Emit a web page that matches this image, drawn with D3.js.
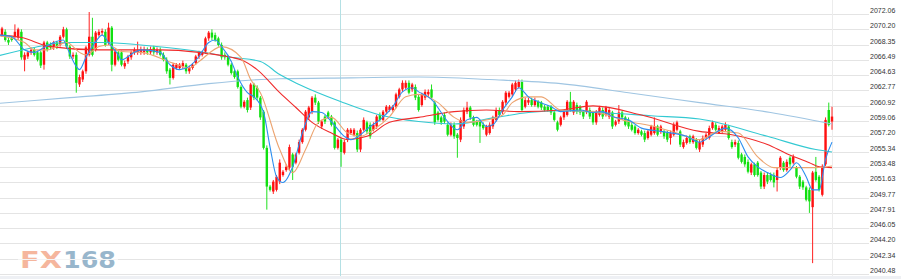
<!DOCTYPE html>
<html>
<head>
<meta charset="utf-8">
<script src="https://cdn.jsdelivr.net/npm/d3@7"></script>
<style>
  html, body { margin: 0; padding: 0; background: #fff; overflow: hidden; }
</style>
</head>
<body>
<svg id="chart" width="901" height="279"></svg>
<script>
// price axis labels (right side)
const yTicks = [2072.06, 2070.20, 2068.35, 2066.49, 2064.63, 2062.77, 2060.92, 2059.06, 2057.20,
  2055.34, 2053.48, 2051.63, 2049.77, 2047.91, 2046.05, 2044.20, 2042.34, 2040.48];

// candles: [open, high, low, close]
const ohlc = [
  [2069.5,2070.5,2069.3,2070.3],[2069.9,2070.2,2068.7,2068.9],[2068.9,2069.2,2068.3,2068.6],[2069.2,2069.4,2068.7,2068.9],
  [2069.3,2070.8,2069.1,2069.9],[2069.2,2070.4,2068.9,2070.2],[2069.9,2070.2,2066.5,2066.8],[2066.5,2067.4,2065.1,2067.1],
  [2066.9,2067.6,2066.6,2067.4],[2067.4,2068.0,2067.1,2067.7],[2067.7,2068.0,2066.9,2067.1],[2067.4,2067.6,2066.3,2066.5],
  [2067.4,2067.6,2065.5,2065.8],[2065.9,2068.8,2065.3,2068.6],[2068.6,2068.8,2067.5,2067.7],[2068.3,2068.6,2067.7,2068.0],
  [2068.0,2068.8,2067.7,2068.6],[2068.6,2068.8,2067.8,2068.1],[2068.3,2069.5,2068.1,2069.3],[2069.3,2070.5,2069.1,2070.2],
  [2070.2,2070.4,2067.8,2068.1],[2068.1,2068.3,2066.6,2066.9],[2066.9,2067.4,2066.6,2067.1],[2067.1,2067.4,2062.5,2063.7],
  [2063.5,2064.7,2063.2,2064.4],[2064.1,2065.3,2063.8,2065.1],[2065.1,2068.2,2064.8,2068.0],[2067.1,2072.3,2066.9,2069.3],
  [2069.3,2071.6,2066.9,2067.1],[2067.7,2070.0,2067.5,2069.8],[2069.5,2070.2,2069.3,2069.9],[2069.8,2070.3,2069.5,2070.0],
  [2069.9,2070.2,2068.1,2068.3],[2068.6,2071.0,2068.3,2070.4],[2070.4,2070.6,2065.1,2065.9],[2065.9,2067.7,2065.7,2067.5],
  [2067.4,2067.6,2066.3,2066.5],[2067.4,2067.6,2065.7,2065.9],[2065.7,2066.4,2065.4,2066.1],[2066.3,2067.1,2066.0,2066.9],
  [2066.8,2067.6,2066.5,2067.4],[2067.4,2068.0,2067.1,2067.7],[2067.4,2068.7,2067.1,2067.7],[2067.4,2068.1,2067.1,2067.8],
  [2067.4,2068.1,2067.1,2067.8],[2067.7,2068.0,2067.1,2067.4],[2067.4,2068.1,2067.1,2067.8],[2068.0,2068.2,2067.1,2067.4],
  [2067.4,2068.0,2067.1,2067.7],[2067.7,2068.0,2066.9,2067.1],[2067.1,2067.4,2066.3,2066.5],[2066.5,2066.8,2064.8,2065.1],
  [2065.3,2065.5,2063.5,2064.3],[2064.3,2066.1,2064.1,2065.9],[2065.5,2066.1,2065.3,2065.9],[2065.5,2066.1,2065.3,2065.9],
  [2065.7,2066.4,2065.4,2066.1],[2065.9,2066.1,2064.8,2065.1],[2065.1,2065.8,2064.8,2065.5],[2065.5,2066.1,2065.3,2065.9],
  [2066.1,2067.1,2065.9,2066.9],[2066.9,2067.6,2066.6,2067.4],[2067.1,2067.6,2066.9,2067.4],[2067.5,2069.3,2067.2,2069.1],
  [2069.1,2070.0,2068.8,2069.8],[2069.8,2070.2,2068.9,2069.2],[2069.5,2069.8,2068.7,2068.9],[2069.1,2069.3,2068.1,2068.3],
  [2068.3,2068.6,2066.5,2066.8],[2067.1,2067.4,2066.5,2066.8],[2066.9,2067.1,2065.7,2065.9],[2065.9,2066.1,2064.7,2064.9],
  [2065.1,2065.3,2064.2,2064.4],[2065.1,2065.3,2063.0,2063.2],[2063.2,2063.4,2060.6,2060.8],[2060.8,2061.6,2060.6,2061.4],
  [2061.6,2061.9,2060.1,2060.4],[2060.7,2063.7,2060.4,2063.5],[2063.5,2063.7,2061.6,2061.9],[2063.1,2063.4,2061.6,2061.9],
  [2061.9,2062.1,2059.2,2059.5],[2060.2,2060.4,2055.6,2055.8],[2055.8,2056.1,2048.3,2051.1],[2051.1,2051.3,2050.5,2050.7],
  [2050.5,2051.9,2050.2,2051.7],[2050.7,2052.5,2050.5,2052.3],[2051.7,2054.4,2051.4,2054.0],[2052.5,2053.1,2052.3,2052.9],
  [2053.1,2053.8,2052.9,2053.5],[2053.4,2056.2,2053.1,2055.9],[2055.0,2055.2,2051.9,2053.5],[2054.0,2055.2,2053.8,2055.0],
  [2055.2,2056.8,2055.0,2056.5],[2056.5,2058.2,2056.3,2058.0],[2058.0,2060.4,2057.8,2060.2],[2059.5,2060.9,2059.2,2060.7],
  [2060.2,2062.1,2059.9,2061.9],[2061.9,2062.3,2061.0,2061.3],[2061.3,2061.5,2058.7,2059.0],[2058.4,2059.2,2058.1,2059.0],
  [2059.6,2059.8,2058.7,2059.0],[2060.1,2060.3,2059.3,2059.6],[2059.6,2059.8,2058.4,2058.6],[2058.9,2059.1,2055.6,2055.8],
  [2055.8,2057.0,2055.6,2056.8],[2056.8,2057.0,2053.5,2055.3],[2055.2,2056.8,2055.0,2056.5],[2056.8,2058.2,2056.5,2058.0],
  [2057.6,2058.2,2057.4,2058.0],[2057.4,2058.2,2057.2,2058.0],[2057.6,2057.9,2055.3,2055.6],[2055.6,2058.2,2055.3,2058.0],
  [2058.0,2059.5,2057.8,2059.2],[2058.9,2059.1,2057.5,2057.8],[2058.6,2058.9,2056.9,2057.2],[2058.0,2058.9,2057.8,2058.6],
  [2058.4,2059.8,2058.1,2059.6],[2059.8,2060.1,2059.0,2059.2],[2059.2,2060.4,2059.0,2060.2],[2060.2,2061.0,2059.9,2060.8],
  [2060.4,2061.0,2060.2,2060.8],[2060.4,2061.0,2060.2,2060.8],[2060.8,2062.5,2060.6,2062.3],[2062.0,2063.1,2061.8,2062.9],
  [2062.9,2064.0,2062.6,2063.7],[2063.1,2064.0,2062.9,2063.7],[2063.7,2064.0,2062.3,2062.5],[2062.9,2063.7,2062.6,2063.5],
  [2063.2,2063.5,2061.6,2061.9],[2062.0,2062.3,2060.2,2060.4],[2061.0,2062.5,2060.8,2062.3],[2061.9,2062.9,2061.6,2062.6],
  [2062.3,2062.9,2062.0,2062.6],[2062.9,2063.5,2061.6,2061.9],[2061.3,2061.5,2058.6,2058.9],[2060.1,2060.3,2059.0,2059.2],
  [2059.5,2059.7,2058.6,2058.9],[2059.8,2060.1,2058.7,2059.0],[2058.6,2058.9,2057.2,2057.4],[2057.4,2058.9,2057.2,2058.6],
  [2058.6,2058.9,2056.9,2057.2],[2057.4,2057.6,2054.6,2057.0],[2056.8,2059.5,2056.5,2059.2],[2058.4,2060.7,2058.1,2060.4],
  [2060.2,2061.4,2059.9,2060.7],[2060.7,2060.9,2059.2,2059.5],[2059.5,2059.7,2058.4,2058.6],[2059.0,2059.2,2058.4,2058.6],
  [2059.0,2059.2,2056.4,2058.4],[2058.6,2058.9,2058.0,2058.2],[2057.4,2058.6,2057.2,2058.4],[2057.6,2058.9,2057.4,2058.6],
  [2058.4,2059.7,2058.1,2059.5],[2059.2,2060.7,2059.0,2060.4],[2060.4,2060.7,2059.6,2059.8],[2060.2,2061.6,2059.9,2061.4],
  [2061.3,2062.7,2061.0,2062.5],[2062.0,2062.7,2061.8,2062.5],[2062.3,2063.7,2062.0,2063.5],[2062.9,2064.0,2062.6,2063.7],
  [2063.2,2064.1,2063.0,2063.8],[2063.8,2064.1,2060.2,2060.4],[2060.8,2061.9,2060.6,2061.6],[2061.3,2061.9,2061.0,2061.6],
  [2061.6,2061.9,2060.8,2061.0],[2061.0,2061.9,2060.8,2061.6],[2061.4,2061.6,2060.6,2060.8],[2061.3,2061.5,2060.4,2060.7],
  [2060.8,2061.0,2060.2,2060.4],[2060.8,2061.0,2060.2,2060.4],[2060.8,2061.0,2059.8,2060.1],[2060.1,2060.3,2059.0,2059.2],
  [2058.9,2059.1,2057.8,2058.0],[2058.6,2059.7,2058.4,2059.5],[2059.5,2060.4,2059.2,2060.2],[2059.8,2061.6,2059.6,2061.4],
  [2061.4,2062.6,2060.2,2060.4],[2060.1,2061.6,2059.8,2061.4],[2061.0,2061.3,2059.9,2060.2],[2060.8,2061.0,2059.8,2060.1],
  [2060.2,2060.4,2059.3,2059.6],[2060.2,2061.6,2059.9,2061.4],[2060.4,2060.7,2059.3,2059.6],[2060.1,2060.3,2058.6,2058.9],
  [2058.9,2060.4,2058.6,2060.2],[2059.8,2060.9,2059.6,2060.7],[2060.4,2060.7,2059.3,2059.6],[2059.8,2060.9,2059.6,2060.7],
  [2059.6,2060.7,2059.3,2060.4],[2060.1,2060.3,2058.1,2058.4],[2058.6,2059.2,2058.4,2059.0],[2059.0,2061.0,2058.7,2060.1],
  [2060.1,2060.3,2059.2,2059.5],[2059.5,2059.7,2058.4,2058.6],[2059.2,2059.5,2058.1,2058.4],[2058.6,2058.9,2057.8,2058.0],
  [2058.4,2058.6,2057.4,2057.6],[2057.6,2058.2,2057.4,2058.0],[2057.8,2058.0,2057.2,2057.4],[2057.6,2057.9,2056.5,2056.8],
  [2057.0,2058.0,2056.8,2057.8],[2057.4,2058.6,2057.2,2058.4],[2057.6,2059.5,2057.4,2058.4],[2058.4,2058.6,2057.2,2057.4],
  [2057.8,2058.6,2057.5,2058.4],[2057.8,2058.0,2056.9,2057.2],[2057.6,2057.9,2056.5,2056.8],[2057.0,2057.9,2056.2,2057.6],
  [2057.4,2058.9,2057.2,2058.6],[2058.0,2059.1,2057.8,2058.9],[2057.8,2058.0,2055.9,2056.2],[2055.9,2056.8,2055.7,2056.5],
  [2056.4,2057.3,2056.2,2057.0],[2057.2,2057.4,2056.3,2056.5],[2056.5,2057.4,2056.3,2057.2],[2056.8,2057.0,2055.6,2055.8],
  [2055.6,2056.8,2055.3,2056.5],[2056.2,2057.3,2055.9,2057.0],[2057.0,2057.6,2056.8,2057.4],[2057.0,2058.5,2056.8,2058.2],
  [2058.2,2059.1,2058.0,2058.9],[2058.6,2058.9,2057.8,2058.0],[2057.6,2058.5,2057.5,2058.2],[2057.8,2058.6,2057.5,2058.4],
  [2058.0,2058.9,2057.8,2058.6],[2058.4,2058.6,2056.8,2057.0],[2056.5,2056.8,2055.7,2055.9],[2056.2,2056.8,2055.9,2056.5],
  [2056.4,2056.7,2054.4,2054.6],[2055.0,2055.2,2053.9,2054.1],[2054.7,2055.0,2053.5,2053.8],[2054.1,2054.4,2052.7,2052.9],
  [2052.8,2054.0,2052.5,2053.8],[2053.8,2054.0,2052.3,2052.5],[2054.0,2054.2,2052.3,2052.5],[2052.8,2053.0,2050.8,2051.1],
  [2051.1,2052.8,2050.8,2052.5],[2052.5,2052.8,2051.4,2051.7],[2052.5,2052.8,2051.7,2051.9],[2052.5,2052.8,2051.0,2051.6],
  [2051.9,2053.4,2050.5,2053.1],[2053.4,2054.8,2053.1,2054.6],[2054.0,2054.2,2052.9,2053.1],[2053.1,2054.4,2052.9,2054.1],
  [2054.6,2054.8,2053.5,2053.8],[2054.0,2055.0,2053.8,2054.7],[2053.4,2053.6,2052.1,2052.3],[2052.3,2052.5,2050.8,2051.1],
  [2051.7,2051.9,2050.7,2051.0],[2051.0,2051.2,2049.3,2049.5],[2050.7,2051.0,2047.9,2049.3],[2048.6,2053.0,2041.8,2052.8],
  [2052.9,2054.7,2051.7,2051.9],[2052.3,2052.5,2050.5,2050.7],[2050.1,2053.8,2049.9,2053.5],[2053.8,2059.5,2053.6,2059.2],
  [2060.4,2061.3,2058.4,2058.6],[2059.0,2060.8,2058.0,2059.6]
];

// moving averages: [candle index, price]
const maFast = [[-1,2069.5],[3,2069.3],[7,2067.7],[10,2067.4],[13,2068.0],[16,2068.6],[19,2068.9],[20,2068.1],[23,2065.7],[24,2065.3],
  [26,2066.8],[29,2068.7],[31,2069.5],[33,2068.6],[36,2067.1],[37,2066.5],[41,2067.4],[43,2067.7],[49,2067.4],[52,2065.9],
  [55,2065.3],[58,2065.7],[61,2066.9],[64,2068.6],[66,2068.9],[68,2068.1],[71,2066.3],[73,2064.4],[76,2062.5],[78,2062.0],
  [81,2060.1],[83,2055.9],[85,2052.3],[87,2051.6],[90,2053.5],[93,2057.6],[96,2060.2],[99,2060.1],[102,2059.0],[106,2057.2],
  [108,2056.8],[111,2057.4],[114,2058.4],[117,2059.2],[121,2060.8],[124,2062.6],[127,2063.1],[129,2062.6],[133,2061.7],[138,2059.0],
  [141,2058.0],[144,2059.2],[147,2059.5],[150,2058.4],[152,2058.6],[155,2060.4],[158,2062.0],[160,2063.1],[163,2062.0],[166,2061.4],
  [170,2060.8],[173,2060.2],[179,2060.4],[183,2060.1],[186,2060.2],[189,2059.6],[194,2059.2],[198,2058.2],[204,2057.8],[212,2057.2],
  [216,2056.5],[220,2057.4],[224,2058.2],[228,2057.0],[231,2054.7],[234,2053.5],[237,2052.8],[241,2052.2],[244,2053.1],[246,2054.0],
  [249,2052.3],[251,2050.7],[253,2050.7],[255,2054.4],[257,2056.5]];
const maMid = [[-1,2069.4],[7,2068.6],[10,2067.7],[14,2067.7],[20,2068.6],[24,2067.4],[26,2067.1],[30,2068.1],[33,2068.3],[37,2067.5],
  [43,2067.4],[53,2066.1],[58,2065.5],[61,2066.3],[68,2068.1],[74,2066.8],[77,2064.1],[80,2062.5],[86,2055.6],[90,2052.8],
  [94,2055.6],[98,2058.9],[102,2059.5],[107,2057.6],[111,2057.2],[115,2058.0],[120,2059.6],[125,2062.0],[129,2062.3],[135,2061.3],
  [140,2059.5],[144,2058.9],[150,2059.2],[155,2059.8],[158,2061.3],[163,2062.0],[167,2062.0],[173,2060.4],[183,2060.2],[194,2059.0],
  [202,2058.4],[209,2057.6],[216,2056.8],[222,2057.8],[228,2057.6],[234,2054.7],[239,2053.4],[246,2053.4],[252,2053.4],[257,2053.6]];
const maSlow = [[-1,2069.5],[6,2069.2],[15,2068.1],[30,2067.7],[40,2067.7],[49,2067.7],[61,2067.4],[71,2066.8],[74,2066.5],[79,2065.3],
  [86,2062.5],[91,2060.7],[96,2058.9],[102,2057.6],[107,2056.8],[113,2057.2],[120,2058.9],[129,2059.5],[140,2060.2],[150,2060.4],
  [160,2060.2],[173,2060.4],[183,2060.9],[198,2059.8],[216,2057.8],[226,2057.4],[237,2056.2],[243,2055.1],[250,2054.0],[253,2053.5],
  [257,2053.4]];
const ma60 = [[-1,2067.0],[10,2068.0],[20,2068.6],[31,2068.6],[43,2068.3],[51,2068.0],[61,2067.5],[71,2066.8],[80,2066.3],[86,2064.7],
  [92,2063.5],[105,2061.4],[117,2059.8],[129,2059.0],[140,2058.7],[153,2059.5],[163,2060.1],[173,2060.3],[185,2060.1],[201,2059.7],
  [216,2059.3],[237,2057.2],[252,2055.6],[257,2055.3]];
const ma120 = [[-1,2061.2],[21,2061.9],[43,2062.6],[64,2063.6],[86,2064.2],[108,2064.3],[129,2064.4],[151,2064.1],[173,2063.6],
  [194,2062.5],[216,2061.3],[238,2060.1],[257,2058.7]];

// session break, in candle index
const sessionBreaks = [104.6];

const svg = d3.select('#chart');
const plotRight = 869;

const x = d3.scaleLinear().domain([0, ohlc.length - 1]).range([2, 832]);
const y = d3.scaleLinear().domain([2040.48, 2072.06]).range([274, 14]);

// grid
svg.append('g')
  .selectAll('line')
  .data(yTicks)
  .enter().append('line')
  .attr('x1', 0)
  .attr('x2', plotRight)
  .attr('y1', d => Math.round(y(d)) + 0.5)
  .attr('y2', d => Math.round(y(d)) + 0.5)
  .attr('stroke', '#e4e4e4')
  .attr('stroke-width', 1);

svg.append('g')
  .selectAll('line')
  .data(sessionBreaks)
  .enter().append('line')
  .attr('x1', d => Math.round(x(d)) + 0.5)
  .attr('x2', d => Math.round(x(d)) + 0.5)
  .attr('y1', 0)
  .attr('y2', 276)
  .attr('stroke', '#b4e0e4');

svg.append('line')
  .attr('x1', Math.round(x(ohlc.length - 1)) + 0.5)
  .attr('x2', Math.round(x(ohlc.length - 1)) + 0.5)
  .attr('y1', 0)
  .attr('y2', 276)
  .attr('stroke', '#ececec');

// bottom strip
svg.append('rect')
  .attr('x', 0).attr('y', 276)
  .attr('width', 901).attr('height', 3)
  .attr('fill', '#eef0f4');

// watermark
const wm = svg.append('g')
  .attr('font-family', 'DejaVu Sans')
  .attr('font-weight', 'bold')
  .attr('font-size', 23)
  .attr('opacity', 0.62);
wm.append('text')
  .attr('x', 20).attr('y', 268)
  .attr('textLength', 42).attr('lengthAdjust', 'spacingAndGlyphs')
  .attr('fill', '#f08a62')
  .text('FX');
wm.append('text')
  .attr('x', 63).attr('y', 268)
  .attr('textLength', 53).attr('lengthAdjust', 'spacingAndGlyphs')
  .attr('fill', '#5a8aae')
  .text('168');
// stencil cut through the letters
wm.append('rect')
  .attr('x', 18).attr('y', 259)
  .attr('width', 100).attr('height', 1)
  .attr('fill', '#fff');

// candles
const up = d => d[3] >= d[0];
const bodyW = 2.4;
const candles = svg.append('g')
  .selectAll('g')
  .data(ohlc)
  .enter().append('g');

candles.append('line')
  .attr('x1', (d, i) => x(i))
  .attr('x2', (d, i) => x(i))
  .attr('y1', d => y(d[1]))
  .attr('y2', d => y(d[2]))
  .attr('stroke', d => up(d) ? '#ff2020' : '#1fe01f')
  .attr('stroke-width', 1);

candles.append('rect')
  .attr('x', (d, i) => x(i) - bodyW / 2)
  .attr('y', d => y(Math.max(d[0], d[3])))
  .attr('width', bodyW)
  .attr('height', d => Math.max(1, Math.abs(y(d[0]) - y(d[3]))))
  .attr('fill', d => up(d) ? '#ff1010' : '#10e010');

// moving averages
const line = d3.line()
  .x(d => x(d[0]))
  .y(d => y(d[1]))
  .curve(d3.curveMonotoneX);

const averages = [
  {data: ma120, color: '#9fc5e2'},
  {data: ma60, color: '#33c9d2'},
  {data: maSlow, color: '#f02a2a'},
  {data: maMid, color: '#eca470'},
  {data: maFast, color: '#2b8ef0'}
];

svg.append('g')
  .selectAll('path')
  .data(averages)
  .enter().append('path')
  .attr('d', d => line(d.data))
  .attr('fill', 'none')
  .attr('stroke', d => d.color)
  .attr('stroke-width', 1.1);

// axis labels
svg.append('g')
  .attr('font-family', 'Liberation Sans, Arial, sans-serif')
  .attr('font-size', 7)
  .attr('fill', '#333')
  .selectAll('text')
  .data(yTicks)
  .enter().append('text')
  .attr('x', 870)
  .attr('y', d => Math.round(y(d)) - 1.5)
  .text(d => d.toFixed(2));
</script>
</body>
</html>
